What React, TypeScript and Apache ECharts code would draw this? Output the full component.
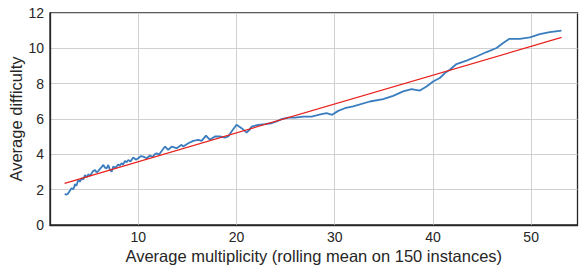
import React, { useEffect, useRef } from "react";
import * as echarts from "echarts";

const multiplicity = [
  2.5, 2.7, 2.87, 3.05, 3.2, 3.4, 3.55, 3.7, 3.89, 4.05, 4.24, 4.4, 4.57, 4.75, 4.91, 5.1, 5.25, 5.4, 5.59, 5.75, 5.93,
  6.15, 6.44, 6.6, 6.78, 6.94, 7.1, 7.29, 7.45, 7.7, 7.96, 8.1, 8.3, 8.45, 8.64, 8.8, 8.98, 9.2,
  9.49, 9.75, 10.0, 10.25, 10.51, 10.85, 11.19, 11.45, 11.7, 11.87, 12.1, 12.38, 12.72, 13.05, 13.4, 13.9, 14.41, 14.58,
  15.09, 15.6, 16.1, 16.45, 16.89, 17.3, 17.8, 18.31, 18.82, 19.16, 19.5, 20.0, 20.52, 21.03, 21.37, 21.54, 22.2, 22.89,
  23.57, 24.08, 24.59, 25.27, 25.95, 26.79, 27.64, 28.66, 29.17, 29.74, 30.35, 31.03, 31.88, 33.58, 34.93, 35.95, 36.97,
  37.82, 38.67, 39.35, 40.02, 40.7, 41.21, 41.72, 42.4, 43.42, 44.44, 45.46, 46.48, 47.15, 47.76, 48.85, 49.87, 50.88,
  51.9, 53.09,
];
const difficulty = [
  1.75, 1.72, 1.8, 1.95, 2.08, 2.02, 2.31, 2.22, 2.55, 2.45, 2.65, 2.58, 2.83, 2.7, 2.87, 2.78, 2.93, 3.05, 3.12, 2.98,
  3.06, 3.2, 3.4, 3.25, 3.21, 3.4, 3.15, 3.02, 3.31, 3.25, 3.44, 3.35, 3.5, 3.42, 3.63, 3.55, 3.68, 3.6,
  3.82, 3.7, 3.78, 3.9, 3.87, 3.78, 3.93, 3.85, 4.01, 4.06, 3.98, 4.19, 4.44, 4.25, 4.44, 4.35, 4.54, 4.44,
  4.63, 4.76, 4.82, 4.76, 5.06, 4.82, 5.01, 5.01, 4.95, 5.01, 5.29, 5.67, 5.48, 5.23, 5.42, 5.57, 5.67, 5.71,
  5.76, 5.86, 5.99, 6.08, 6.08, 6.14, 6.14, 6.27, 6.33, 6.24, 6.46, 6.61, 6.71, 6.99, 7.12, 7.31, 7.56,
  7.69, 7.61, 7.84, 8.12, 8.32, 8.6, 8.79, 9.11, 9.3, 9.54, 9.79, 10.02, 10.3, 10.53, 10.54, 10.62, 10.81,
  10.92, 11.0,
];
const fitX = [2.5, 53.1];
const fitY = [2.36, 10.62];
const xTicks = [10, 20, 30, 40, 50];

export default function App() {
  const ref = useRef<HTMLDivElement>(null);
  useEffect(() => {
    if (!ref.current) return;
    const chart = echarts.init(ref.current, undefined, { renderer: "svg" });
    const font = "Liberation Sans, Arial, sans-serif";
    chart.setOption({
      animation: false,
      grid: {
        left: 50,
        right: 1.5,
        top: 13,
        bottom: 43,
        containLabel: false,
        outerBoundsMode: "none",
        show: true,
        borderColor: "#262626",
        borderWidth: 1.3,
        backgroundColor: "transparent",
      },
      xAxis: {
        type: "value",
        min: 1.01,
        max: 54.72,
        name: "Average multiplicity (rolling mean on 150 instances)",
        nameLocation: "middle",
        nameGap: 22,
        nameMoveOverlap: false,
        nameTextStyle: { fontFamily: font, fontSize: 16.5, color: "#262626" },
        axisLine: { show: true, onZero: false, lineStyle: { color: "#262626", width: 1.3 } },
        axisTick: { show: false, customValues: xTicks },
        axisLabel: { customValues: xTicks, fontFamily: font, fontSize: 14, color: "#262626", margin: 5 },
        splitLine: { show: true, lineStyle: { color: "#d0d0d0", width: 1 } },
      },
      yAxis: {
        type: "value",
        min: 0,
        max: 12,
        interval: 2,
        name: "Average difficulty",
        nameLocation: "middle",
        nameGap: 26,
        nameMoveOverlap: false,
        nameTextStyle: { fontFamily: font, fontSize: 16.5, color: "#262626" },
        axisLine: { show: true, onZero: false, lineStyle: { color: "#262626", width: 1.3 } },
        axisTick: { show: false },
        axisLabel: { fontFamily: font, fontSize: 14, color: "#262626", margin: 6 },
        splitLine: { show: true, lineStyle: { color: "#d0d0d0", width: 1 } },
      },
      series: [
        {
          type: "line",
          data: multiplicity.map((x, i) => [x, difficulty[i]]),
          showSymbol: false,
          lineStyle: { color: "#3a7dbf", width: 1.8 },
          z: 2,
        },
        {
          type: "line",
          data: fitX.map((x, i) => [x, fitY[i]]),
          showSymbol: false,
          lineStyle: { color: "#e8211d", width: 1.2 },
          z: 3,
        },
      ],
    });
    return () => chart.dispose();
  }, []);
  return <div ref={ref} style={{ width: 579, height: 268, position: "absolute", left: 0, top: 0 }} />;
}
